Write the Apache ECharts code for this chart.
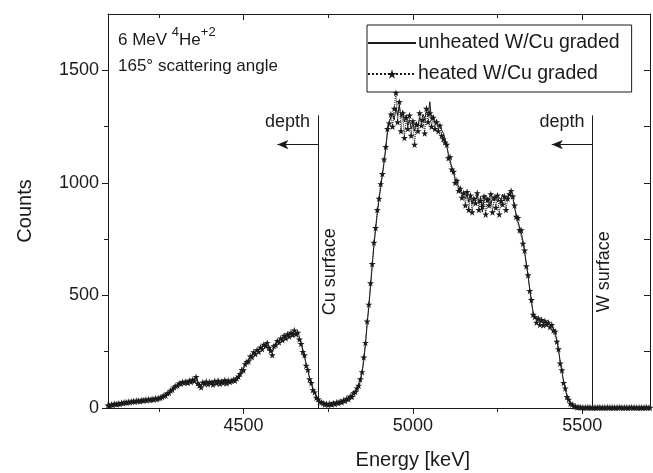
<!DOCTYPE html>
<html>
<head>
<meta charset="utf-8">
<script src="https://cdn.jsdelivr.net/npm/echarts@6/dist/echarts.min.js"></script>
<style>
  html, body { margin: 0; padding: 0; background: #fff; }
  #chart { width: 653px; height: 473px; }
</style>
</head>
<body>
<div id="chart"></div>
<script>
  // channel energies (keV): start + i * step
  var energyStart = 4100;
  var energyStep = 5;

  // counts per channel
  var unheated = [
    10, 14, 12, 16, 18, 15, 19, 21, 20, 24, 22, 26, 25, 28, 27, 30, 29, 32, 30, 34, 33, 31, 35, 36, 34, 38, 37, 40, 39, 42, 41,
    44, 48, 52, 58, 62, 70, 76, 84, 90, 96, 102, 106, 110, 112, 115, 113,
    118, 114, 120, 116, 124, 132, 118, 108, 98, 110, 116, 112, 118, 109, 114, 120, 112, 117, 111, 119, 114, 121, 116, 113, 120, 118, 124, 121, 126, 128,
    135, 148, 162, 175, 188, 200, 212, 222, 232, 240, 246, 252, 258, 262, 270, 276,
    280, 284, 274, 262, 250, 268, 285, 292, 300, 306, 310, 318, 314, 322, 326, 320, 332, 336, 330, 328,
    315, 290, 260, 228, 195, 165, 135, 108, 85, 66, 50, 38, 30, 24,
    20, 18, 17, 16, 18, 17, 19, 20, 22, 24, 26, 28, 31, 34, 38, 42, 47, 53, 60, 68,
    80, 95, 118, 155, 210, 280, 370, 450, 540, 630, 720, 795, 865, 925, 980, 1035, 1090, 1150, 1225, 1270,
    1290, 1310, 1280, 1335, 1300, 1345, 1290, 1320, 1270, 1300, 1255, 1280, 1240, 1265, 1230, 1270, 1250, 1290, 1270, 1305, 1285, 1320, 1295, 1360, 1280, 1300, 1265, 1280, 1250, 1260, 1235, 1220,
    1195, 1160, 1130, 1100, 1070, 1045, 1020, 1000, 985, 965, 950, 945,
    930, 950, 915, 940, 905, 935, 920, 950, 910, 940, 870, 925, 945, 915, 935, 905, 930, 920, 945, 915, 935, 925, 950, 920, 940, 930, 955, 960, 935,
    890, 860, 830, 805, 780, 740, 690, 640, 585, 530, 470, 425, 400,
    392, 388, 384, 380, 375, 382, 378, 374, 370, 362, 352, 335,
    300, 255, 205, 160, 118, 82, 55, 35, 22, 14, 9, 6, 4, 3,
    2, 3, 2, 1, 3, 2, 2, 3, 1, 2, 3, 2, 2, 1, 2, 3, 2, 2, 3, 1, 2, 2, 3, 2, 1, 2, 3, 2, 2, 1, 2, 3, 2, 2, 1, 2, 2, 3, 2, 1, 2, 2
  ];
  var heated = [
    12, 11, 15, 14, 19, 17, 20, 18, 23, 22, 25, 24, 28, 26, 29, 31, 28, 33, 32, 30, 35, 33, 37, 34, 39, 36, 40, 38, 43, 40, 44,
    46, 50, 55, 56, 65, 68, 78, 82, 92, 98, 100, 110, 108, 116, 112, 118,
    112, 122, 116, 126, 120, 138, 110, 100, 92, 114, 108, 118, 106, 116, 112, 104, 120, 110, 122, 108, 117, 112, 124, 110, 122, 116, 120, 126, 122, 132,
    140, 152, 170, 168, 195, 205, 208, 230, 226, 248, 240, 258, 250, 270, 262, 282,
    276, 290, 268, 255, 235, 275, 280, 298, 292, 310, 302, 322, 310, 328, 318, 335, 325, 345, 328, 335,
    305, 285, 250, 235, 188, 170, 128, 112, 80, 70, 46, 40, 28, 26,
    22, 16, 19, 14, 20, 16, 22, 18, 25, 22, 29, 26, 34, 32, 42, 40, 52, 50, 66, 72,
    88, 100, 128, 160, 225, 290, 385, 460, 555, 640, 735, 800, 880, 930, 995, 1040, 1105, 1160, 1240, 1265,
    1305, 1250, 1330, 1400, 1270, 1360, 1230, 1310, 1200, 1290, 1240, 1300, 1210, 1275, 1170, 1260, 1230, 1310, 1255, 1280, 1220, 1330, 1270, 1310, 1250, 1290, 1240, 1270, 1230, 1255, 1210, 1195,
    1180, 1170, 1110, 1115, 1060, 1050, 1000, 1010, 965, 975, 935, 955,
    900, 960, 880, 945, 870, 930, 910, 955, 880, 920, 895, 940, 860, 925, 900, 950, 870, 935, 890, 945, 860, 920, 905, 940, 880, 930, 950, 965, 940,
    900, 850, 845, 790, 790, 730, 700, 630, 590, 520, 480, 415, 405,
    380, 398, 370, 392, 368, 386, 372, 380, 360, 370, 345, 340,
    295, 262, 198, 168, 112, 88, 50, 38, 20, 16, 8, 7, 3, 4,
    3, 2, 1, 2, 2, 3, 1, 2, 2, 1, 2, 3, 1, 2, 2, 1, 3, 2, 1, 2, 2, 1, 2, 3, 2, 1, 2, 2, 1, 2, 3, 1, 2, 2, 1, 2, 2, 1, 2, 3, 1, 2
  ];

  var xMajorTicks = [4500, 5000, 5500];
  var xMinorTicks = [4250, 4750, 5250];
  var yMajorTicks = [0, 500, 1000, 1500];
  var yMinorTicks = [250, 750, 1250];

  var surfaces = [
    {name: 'Cu surface', energy: 4720},
    {name: 'W surface', energy: 5530}
  ];
  var surfaceTop = 1300;
  var arrowLevel = 1170;
  var arrowLength = 120;
  var depthLevel = 1272;
  var depthOffset = 90;
  var surfaceLabelLevel = 605;

  var font = "'Liberation Sans', Arial, sans-serif";
  var ink = '#1a1a1a';

  function toPoints(arr) {
    return arr.map(function (v, i) { return [energyStart + i * energyStep, v]; });
  }
  function plain(v) { return String(v); }

  var star = 'path://M50,0 L61,35 L98,35 L68,57 L79,91 L50,70 L21,91 L32,57 L2,35 L39,35 Z';

  function xAxisDef(pos, ticks, len, inside, main) {
    return {
      type: 'value', position: pos, min: 4100, max: 5700,
      axisLine: {show: main, onZero: false, lineStyle: {color: ink, width: 1}},
      axisTick: {show: true, inside: inside, length: len, customValues: ticks, lineStyle: {color: ink, width: 1}},
      axisLabel: {show: main && pos === 'bottom' && !inside, customValues: xMajorTicks, formatter: plain,
                  fontSize: 18, color: ink, fontFamily: font, margin: 9},
      splitLine: {show: false}
    };
  }
  function yAxisDef(pos, ticks, len, inside, main) {
    return {
      type: 'value', position: pos, min: 0, max: 1750,
      axisLine: {show: main, onZero: false, lineStyle: {color: ink, width: 1}},
      axisTick: {show: true, inside: inside, length: len, customValues: ticks, lineStyle: {color: ink, width: 1}},
      axisLabel: {show: main && pos === 'left', customValues: yMajorTicks, formatter: plain,
                  fontSize: 18, color: ink, fontFamily: font, margin: 9},
      splitLine: {show: false}
    };
  }

  var markData = [];
  surfaces.forEach(function (s) {
    markData.push([{coord: [s.energy, 0], symbol: 'none'}, {coord: [s.energy, surfaceTop], symbol: 'none'}]);
    markData.push([{coord: [s.energy, arrowLevel], symbol: 'none'},
                   {coord: [s.energy - arrowLength, arrowLevel], symbol: 'arrow', symbolSize: [7, 11]}]);
  });

  var option = {
    animation: false,
    backgroundColor: '#fff',
    grid: {left: 108, right: 3, top: 14, bottom: 65},
    xAxis: [
      xAxisDef('bottom', xMajorTicks, 6, false, true),
      xAxisDef('bottom', xMinorTicks, 4, false, false),
      xAxisDef('top', xMajorTicks, 6, true, true),
      xAxisDef('top', xMinorTicks, 4, true, false)
    ],
    yAxis: [
      yAxisDef('left', yMajorTicks, 6, false, true),
      yAxisDef('left', yMinorTicks, 4, false, false),
      yAxisDef('right', yMajorTicks, 6, true, true),
      yAxisDef('right', yMinorTicks, 6, true, false)
    ],
    legend: {
      orient: 'vertical', left: 367, top: 25,
      data: [
        {name: 'unheated W/Cu graded', itemStyle: {opacity: 0}},
        {name: 'heated W/Cu graded'}
      ],
      itemWidth: 48, itemHeight: 12, itemGap: 11,
      borderColor: ink, borderWidth: 1, borderRadius: 0,
      padding: [8, 12, 8, 0],
      textStyle: {fontSize: 19.5, color: ink, fontFamily: font, padding: [0, 0, 0, -3]}
    },
    series: [
      {
        name: 'heated W/Cu graded', type: 'line', xAxisIndex: 0, yAxisIndex: 0,
        data: toPoints(heated),
        symbol: star, symbolSize: 7, showSymbol: true,
        itemStyle: {color: ink},
        lineStyle: {color: ink, width: 1, type: 'dotted'}
      },
      {
        name: 'unheated W/Cu graded', type: 'line', xAxisIndex: 0, yAxisIndex: 0,
        data: toPoints(unheated),
        symbol: 'none',
        itemStyle: {color: ink},
        lineStyle: {color: ink, width: 1},
        markLine: {
          silent: true, animation: false,
          label: {show: false},
          lineStyle: {color: ink, width: 1, type: 'solid'},
          data: markData
        }
      }
    ]
  };

  var chart = echarts.init(document.getElementById('chart'));
  chart.setOption(option);

  var textStyle = {fill: ink, fontSize: 18, fontFamily: font};
  var gfx = [];
  surfaces.forEach(function (s) {
    var p = chart.convertToPixel({xAxisIndex: 0, yAxisIndex: 0}, [s.energy, surfaceLabelLevel]);
    gfx.push({type: 'text', x: p[0] + 12, y: p[1], rotation: Math.PI / 2,
      style: Object.assign({text: s.name, align: 'center', verticalAlign: 'middle'}, textStyle)});
    var d = chart.convertToPixel({xAxisIndex: 0, yAxisIndex: 0}, [s.energy - depthOffset, depthLevel]);
    gfx.push({type: 'text', x: d[0], y: d[1],
      style: Object.assign({text: 'depth', align: 'center', verticalAlign: 'middle'}, textStyle)});
  });
  var e = chart.convertToPixel({xAxisIndex: 0, yAxisIndex: 0}, [5000, 0]);
  gfx.push({type: 'text', x: e[0], y: 460,
    style: Object.assign({text: 'Energy [keV]', align: 'center', verticalAlign: 'middle'}, textStyle, {fontSize: 20})});
  gfx.push({type: 'text', x: 25, y: 211, rotation: Math.PI / 2,
    style: Object.assign({text: 'Counts', align: 'center', verticalAlign: 'middle'}, textStyle, {fontSize: 20})});
  gfx.push({type: 'text', x: 118, y: 26,
    style: {
      text: '{n|6 MeV }{s|4}{n|He}{s|+2}',
      fill: ink, fontFamily: font,
      rich: {
        n: {fontSize: 17, lineHeight: 23, verticalAlign: 'bottom', fontFamily: font, fill: ink},
        s: {fontSize: 13, lineHeight: 13, verticalAlign: 'top', fontFamily: font, fill: ink}
      }
    }});
  gfx.push({type: 'text', x: 118, y: 66,
    style: Object.assign({text: '165\u00b0 scattering angle', align: 'left', verticalAlign: 'middle'}, textStyle, {fontSize: 17})});
  chart.setOption({graphic: gfx});
</script>
</body>
</html>
